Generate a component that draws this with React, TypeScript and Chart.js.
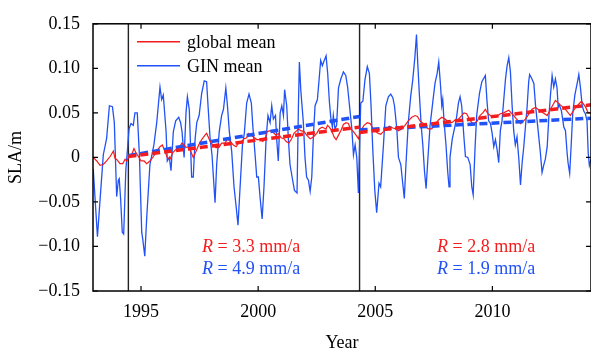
import React, { useEffect, useRef } from 'react';
import { Chart, registerables } from 'chart.js';

Chart.register(...registerables);

// ---- axes ----
const xTickValues = [1995, 2000, 2005, 2010];
const xTickLabels = ['1995', '2000', '2005', '2010'];
const yTickValues = [-0.15, -0.1, -0.05, 0, 0.05, 0.1, 0.15];
const yTickLabels = ['\u22120.15', '\u22120.10', '\u22120.05', '0', '0.05', '0.10', '0.15'];
const xRange = [1992.95, 2014.21];
const yRange = [-0.15, 0.15];
const xTitle = 'Year';
const yTitle = 'SLA/m';

// ---- series ----
const seriesNames = ['global mean', 'GIN mean'];

const ginYears = [
  1992.96, 1993.14, 1993.28, 1993.39, 1993.53, 1993.65, 1993.78, 1993.86, 1993.96, 1994.03,
  1994.07, 1994.13, 1994.2, 1994.26, 1994.35, 1994.49, 1994.57, 1994.67, 1994.74, 1994.84,
  1994.93, 1995.03, 1995.07, 1995.16, 1995.24, 1995.38, 1995.55, 1995.67, 1995.81, 1995.88,
  1995.95, 1996.07, 1996.12, 1996.21, 1996.28, 1996.38, 1996.48, 1996.61, 1996.69, 1996.75,
  1996.84, 1996.92, 1996.98, 1997.06, 1997.16, 1997.23, 1997.31, 1997.38, 1997.48, 1997.59,
  1997.7, 1997.8, 1997.87, 1997.95, 1998.03, 1998.09, 1998.16, 1998.23, 1998.34, 1998.44,
  1998.52, 1998.62, 1998.69, 1998.77, 1998.87, 1998.97, 1999.06, 1999.14, 1999.23, 1999.33,
  1999.41, 1999.51, 1999.61, 1999.71, 1999.77, 1999.87, 1999.94, 2000.01, 2000.08, 2000.17,
  2000.25, 2000.34, 2000.42, 2000.51, 2000.58, 2000.65, 2000.74, 2000.79, 2000.86, 2000.94,
  2001.01, 2001.08, 2001.13, 2001.22, 2001.29, 2001.36, 2001.45, 2001.55, 2001.66, 2001.72,
  2001.76, 2001.82, 2001.93, 2002.0, 2002.07, 2002.15, 2002.22, 2002.29, 2002.36, 2002.43,
  2002.53, 2002.61, 2002.67, 2002.74, 2002.81, 2002.9, 2002.97, 2003.04, 2003.1, 2003.17,
  2003.21, 2003.28, 2003.35, 2003.43, 2003.53, 2003.64, 2003.74, 2003.82, 2003.9, 2004.0,
  2004.07, 2004.14, 2004.21, 2004.28, 2004.31, 2004.38, 2004.47, 2004.56, 2004.66, 2004.75,
  2004.82, 2004.89, 2004.98, 2005.06, 2005.16, 2005.23, 2005.35, 2005.45, 2005.56, 2005.66,
  2005.75, 2005.82, 2005.92, 2005.99, 2006.09, 2006.16, 2006.24, 2006.31, 2006.41, 2006.51,
  2006.6, 2006.69, 2006.76, 2006.81, 2006.88, 2006.96, 2007.03, 2007.1, 2007.17, 2007.24,
  2007.34, 2007.45, 2007.55, 2007.64, 2007.71, 2007.78, 2007.84, 2007.88, 2007.94, 2008.02,
  2008.09, 2008.15, 2008.19, 2008.29, 2008.41, 2008.48, 2008.55, 2008.62, 2008.69, 2008.79,
  2008.85, 2008.95, 2009.05, 2009.12, 2009.18, 2009.26, 2009.33, 2009.45, 2009.55, 2009.7,
  2009.77, 2009.84, 2009.92, 2009.99, 2010.06, 2010.13, 2010.2, 2010.27, 2010.34, 2010.41,
  2010.48, 2010.56, 2010.63, 2010.7, 2010.77, 2010.84, 2010.91, 2010.98, 2011.05, 2011.13,
  2011.2, 2011.27, 2011.34, 2011.41, 2011.48, 2011.55, 2011.59, 2011.69, 2011.77, 2011.84,
  2011.91, 2011.98, 2012.05, 2012.12, 2012.19, 2012.26, 2012.34, 2012.41, 2012.48, 2012.55,
  2012.62, 2012.69, 2012.76, 2012.81, 2012.86, 2012.95, 2013.05, 2013.12, 2013.19, 2013.23,
  2013.3, 2013.36, 2013.43, 2013.52, 2013.62, 2013.69, 2013.76, 2013.83, 2013.9, 2013.97,
  2014.04, 2014.09, 2014.14, 2014.21,
];
const ginValues = [
  -0.013, -0.089, -0.037, 0.003, 0.021, 0.058, 0.057, 0.039, -0.044, -0.026,
  -0.024, -0.047, -0.084, -0.086, -0.015, 0.032, 0.038, 0.036, 0.05, 0.05,
  0.003, -0.084, -0.091, -0.111, -0.069, -0.008, 0.014, 0.039, 0.079, 0.065,
  0.07, 0.029, -0.004, 0.0, -0.015, 0.029, 0.041, 0.045, 0.039, 0.029,
  0.0, 0.05, 0.068, 0.054, -0.022, -0.022, 0.021, 0.039, 0.047, 0.072,
  0.086, 0.085, 0.054, 0.021, 0.003, -0.022, -0.051, -0.008, 0.029, 0.047,
  0.054, 0.078, 0.058, 0.029, 0.007, -0.033, -0.055, -0.076, -0.033, 0.014,
  0.027, 0.061, 0.071, 0.061, 0.036, 0.003, -0.022, -0.022, -0.044, -0.069,
  -0.033, 0.021, 0.047, 0.039, 0.058, 0.043, 0.047, 0.021, -0.004, 0.05,
  0.058, 0.047, 0.076, 0.058, 0.021, -0.008, -0.022, -0.037, -0.04, 0.058,
  0.107, 0.076, 0.039, 0.0, -0.022, -0.026, -0.038, -0.022, 0.025, 0.058,
  0.065, 0.09, 0.109, 0.103, 0.108, 0.114, 0.094, 0.063, 0.045, 0.034,
  0.047, 0.032, 0.036, 0.078, 0.088, 0.096, 0.092, 0.079, 0.058, 0.032,
  0.003, 0.014, 0.0, -0.04, -0.008, 0.061, 0.063, 0.087, 0.102, 0.094,
  0.058, 0.011, -0.037, -0.062, -0.029, -0.033, 0.014, 0.058, 0.068, 0.071,
  0.067, 0.058, 0.032, 0.0, -0.008, -0.026, -0.046, -0.008, 0.039, 0.068,
  0.087, 0.112, 0.138, 0.108, 0.072, 0.036, 0.014, -0.015, -0.035, -0.004,
  0.036, 0.061, 0.083, 0.094, 0.107, 0.083, 0.058, 0.065, 0.039, 0.014,
  -0.015, -0.033, 0.0, 0.021, 0.036, 0.047, 0.061, 0.068, 0.058, 0.021,
  0.001, 0.0, -0.008, -0.033, -0.042, 0.011, 0.047, 0.072, 0.085, 0.092,
  0.063, 0.041, 0.038, 0.027, 0.012, 0.02, 0.009, -0.006, 0.03, 0.041,
  0.063, 0.088, 0.103, 0.112, 0.096, 0.059, 0.03, 0.014, 0.023, -0.002,
  -0.031, -0.006, 0.012, 0.034, 0.056, 0.085, 0.093, 0.088, 0.083, 0.059,
  0.041, 0.023, 0.005, -0.017, -0.009, -0.002, 0.012, 0.045, 0.07, 0.092,
  0.079, 0.088, 0.078, 0.056, 0.059, 0.052, 0.034, 0.03, 0.005, -0.006,
  -0.018, 0.012, 0.049, 0.07, 0.083, 0.093, 0.078, 0.059, 0.052, 0.049,
  0.041, 0.005, -0.009, -0.002,
];

const globalYears = [
  1992.96, 1993.11, 1993.25, 1993.39, 1993.53, 1993.68, 1993.82, 1993.89, 1993.99, 1994.1,
  1994.22, 1994.32, 1994.39, 1994.5, 1994.6, 1994.7, 1994.79, 1994.89, 1995.0, 1995.13,
  1995.24, 1995.38, 1995.53, 1995.67, 1995.81, 1995.91, 1996.02, 1996.12, 1996.24, 1996.35,
  1996.49, 1996.64, 1996.74, 1996.84, 1996.92, 1997.02, 1997.12, 1997.23, 1997.35, 1997.46,
  1997.59, 1997.73, 1997.8, 1997.87, 1997.95, 1998.06, 1998.2, 1998.32, 1998.44, 1998.59,
  1998.69, 1998.8, 1998.94, 1999.06, 1999.16, 1999.3, 1999.41, 1999.51, 1999.58, 1999.68,
  1999.8, 1999.94, 2000.08, 2000.2, 2000.29, 2000.39, 2000.51, 2000.65, 2000.76, 2000.86,
  2000.98, 2001.1, 2001.19, 2001.31, 2001.43, 2001.53, 2001.65, 2001.72, 2001.82, 2001.96,
  2002.07, 2002.22, 2002.36, 2002.5, 2002.61, 2002.73, 2002.81, 2002.9, 2002.96, 2003.04,
  2003.14, 2003.24, 2003.33, 2003.43, 2003.53, 2003.64, 2003.75, 2003.85, 2003.95, 2004.07,
  2004.18, 2004.28, 2004.38, 2004.52, 2004.66, 2004.78, 2004.89, 2005.01, 2005.13, 2005.23,
  2005.35, 2005.46, 2005.6, 2005.75, 2005.89, 2005.99, 2006.13, 2006.27, 2006.41, 2006.56,
  2006.7, 2006.8, 2006.91, 2007.06, 2007.17, 2007.27, 2007.41, 2007.55, 2007.7, 2007.84,
  2007.98, 2008.12, 2008.27, 2008.41, 2008.55, 2008.69, 2008.79, 2008.9, 2009.02, 2009.12,
  2009.23, 2009.36, 2009.47, 2009.59, 2009.7, 2009.81, 2009.92, 2010.13, 2010.34, 2010.48,
  2010.7, 2010.91, 2011.2, 2011.41, 2011.69, 2011.84, 2012.05, 2012.34, 2012.48, 2012.69,
  2012.9, 2013.12, 2013.33, 2013.55, 2013.8, 2013.97, 2014.09, 2014.19,
];
const globalValues = [
  0.0, -0.004, -0.009, -0.008, -0.004, 0.001, 0.007, -0.001, -0.003, -0.007,
  -0.007, -0.002, -0.004, 0.001, 0.003, 0.01, 0.005, 0.001, -0.004, -0.004,
  -0.007, -0.004, 0.001, 0.007, 0.012, 0.014, 0.007, 0.0, -0.002, 0.005,
  0.009, 0.011, 0.016, 0.014, 0.011, 0.012, 0.007, 0.0, 0.007, 0.014,
  0.02, 0.025, 0.027, 0.023, 0.018, 0.014, 0.011, 0.011, 0.016, 0.016,
  0.021, 0.018, 0.014, 0.012, 0.016, 0.018, 0.021, 0.022, 0.027, 0.025,
  0.023, 0.02, 0.02, 0.018, 0.021, 0.029, 0.03, 0.028, 0.025, 0.027,
  0.022, 0.021, 0.018, 0.016, 0.021, 0.027, 0.03, 0.032, 0.03, 0.029,
  0.025, 0.021, 0.023, 0.027, 0.032, 0.034, 0.033, 0.032, 0.036, 0.034,
  0.03, 0.023, 0.02, 0.025, 0.03, 0.037, 0.039, 0.038, 0.032, 0.029,
  0.025, 0.021, 0.03, 0.036, 0.039, 0.038, 0.033, 0.029, 0.027, 0.026,
  0.029, 0.032, 0.035, 0.033, 0.032, 0.03, 0.032, 0.036, 0.041, 0.045,
  0.047, 0.046, 0.041, 0.038, 0.034, 0.032, 0.032, 0.037, 0.042, 0.045,
  0.043, 0.04, 0.039, 0.042, 0.043, 0.047, 0.05, 0.049, 0.043, 0.039,
  0.038, 0.041, 0.047, 0.05, 0.054, 0.049, 0.047, 0.045, 0.049, 0.05,
  0.053, 0.047, 0.038, 0.043, 0.054, 0.056, 0.052, 0.047, 0.054, 0.064,
  0.059, 0.054, 0.047, 0.056, 0.063, 0.057, 0.05, 0.05,
];

// ---- trends (piecewise, between break years) ----
const breakYears = [1994.46, 2004.33];
const globalTrendStart = [0.001, 0.028];
const globalTrendEnd = [0.034, 0.059];
const ginTrendStart = [0.002, 0.031];
const ginTrendEnd = [0.046, 0.044];
const globalRates = ['3.3', '2.8'];
const ginRates = ['4.9', '1.9'];
const rateCenterYears = [1999.7, 2009.73];

const RED = '#f41c1c';
const BLUE = '#2152f5';
const FONT = '"Liberation Serif", "Times New Roman", serif';

function toPoints(xs: number[], ys: number[]) {
  return xs.map((x, i) => ({ x, y: ys[i] }));
}

function trendSegments(starts: number[], ends: number[]) {
  return breakYears.map((b, i) => {
    const end = i + 1 < breakYears.length ? breakYears[i + 1] : xRange[1];
    return [
      { x: b, y: starts[i] },
      { x: end, y: ends[i] },
    ];
  });
}

const framePlugin = {
  id: 'frameAndText',
  afterDatasetsDraw(chart: any) {
    const { ctx, chartArea, scales } = chart;
    const { left, right, top, bottom } = chartArea;
    const xs = scales.x;
    const ys = scales.y;
    ctx.save();
    // frame
    ctx.strokeStyle = '#000';
    ctx.lineWidth = 1.5;
    ctx.strokeRect(left, top, right - left, bottom - top);
    // inward ticks
    ctx.lineWidth = 1.2;
    ctx.beginPath();
    xTickValues.forEach((v) => {
      const px = xs.getPixelForValue(v);
      ctx.moveTo(px, bottom);
      ctx.lineTo(px, bottom - 5);
      ctx.moveTo(px, top);
      ctx.lineTo(px, top + 5);
    });
    yTickValues.forEach((v) => {
      const py = ys.getPixelForValue(v);
      ctx.moveTo(left, py);
      ctx.lineTo(left + 5, py);
      ctx.moveTo(right, py);
      ctx.lineTo(right - 5, py);
    });
    ctx.stroke();

    // legend
    const colors = [RED, BLUE];
    ctx.font = `18px ${FONT}`;
    ctx.textBaseline = 'alphabetic';
    ctx.textAlign = 'left';
    seriesNames.forEach((name, i) => {
      const ly = top + 18 + i * 24;
      ctx.strokeStyle = colors[i];
      ctx.lineWidth = 1.5;
      ctx.beginPath();
      ctx.moveTo(left + 44, ly);
      ctx.lineTo(left + 87, ly);
      ctx.stroke();
      ctx.fillStyle = '#000';
      ctx.fillText(name, left + 94, ly + 6);
    });

    // rate annotations
    const rows = [
      { rates: globalRates, color: RED, base: bottom - 39 },
      { rates: ginRates, color: BLUE, base: bottom - 17 },
    ];
    rows.forEach((row) => {
      row.rates.forEach((r, i) => {
        const cx = xs.getPixelForValue(rateCenterYears[i]);
        const rest = ` = ${r} mm/a`;
        ctx.font = `italic 18px ${FONT}`;
        const w1 = ctx.measureText('R').width;
        ctx.font = `18px ${FONT}`;
        const w2 = ctx.measureText(rest).width;
        const sx = cx - (w1 + w2) / 2;
        ctx.fillStyle = row.color;
        ctx.font = `italic 18px ${FONT}`;
        ctx.fillText('R', sx, row.base);
        ctx.font = `18px ${FONT}`;
        ctx.fillText(rest, sx + w1, row.base);
      });
    });
    ctx.restore();
  },
};

export default function App() {
  const ref = useRef<HTMLCanvasElement | null>(null);
  useEffect(() => {
    document.body.style.margin = '0';
    const canvas = ref.current;
    if (!canvas) return;

    const globalSegs = trendSegments(globalTrendStart, globalTrendEnd);
    const ginSegs = trendSegments(ginTrendStart, ginTrendEnd);

    const base = { pointRadius: 0, tension: 0, fill: false };
    const datasets: any[] = [];
    globalSegs.forEach((seg) =>
      datasets.push({ ...base, data: seg, borderColor: RED, borderWidth: 3.5, borderDash: [8, 4] })
    );
    ginSegs.forEach((seg) =>
      datasets.push({ ...base, data: seg, borderColor: BLUE, borderWidth: 3.5, borderDash: [8, 4] })
    );
    datasets.push({ ...base, label: seriesNames[0], data: toPoints(globalYears, globalValues), borderColor: RED, borderWidth: 1.2 });
    datasets.push({ ...base, label: seriesNames[1], data: toPoints(ginYears, ginValues), borderColor: BLUE, borderWidth: 1.3 });
    breakYears.forEach((b) =>
      datasets.push({ ...base, data: [{ x: b, y: yRange[0] }, { x: b, y: yRange[1] }], borderColor: '#222', borderWidth: 1.4 })
    );

    const chart = new Chart(canvas, {
      type: 'line',
      data: { datasets },
      options: {
        animation: false,
        responsive: false,
        maintainAspectRatio: false,
        devicePixelRatio: 1,
        layout: { padding: { top: 15, left: 0, right: 0, bottom: 0 } },
        plugins: { legend: { display: false }, tooltip: { enabled: false } },
        scales: {
          x: {
            type: 'linear',
            min: xRange[0],
            max: xRange[1],
            grid: { display: false, drawTicks: false },
            border: { display: false },
            afterBuildTicks: (s: any) => {
              s.ticks = xTickValues.map((v) => ({ value: v }));
            },
            afterFit: (s: any) => {
              s.height = 63;
            },
            ticks: {
              padding: 10,
              color: '#000',
              font: { family: FONT, size: 18 },
              callback: (_v: any, i: number) => xTickLabels[i],
            },
            title: {
              display: true,
              text: xTitle,
              color: '#000',
              font: { family: FONT, size: 18 },
              padding: { top: 2, bottom: 0 },
            },
          },
          y: {
            type: 'linear',
            min: yRange[0],
            max: yRange[1],
            grid: { display: false, drawTicks: false },
            border: { display: false },
            afterBuildTicks: (s: any) => {
              s.ticks = yTickValues.map((v) => ({ value: v }));
            },
            afterFit: (s: any) => {
              s.width = 93;
            },
            ticks: {
              padding: 13,
              color: '#000',
              font: { family: FONT, size: 18 },
              callback: (_v: any, i: number) => yTickLabels[i],
            },
            title: {
              display: true,
              text: yTitle,
              color: '#000',
              font: { family: FONT, size: 18 },
              padding: { top: 5, bottom: 0 },
            },
          },
        },
      },
      plugins: [framePlugin],
    });
    return () => chart.destroy();
  }, []);

  return (
    <div style={{ width: 591, height: 354, position: 'relative', background: '#fff' }}>
      <canvas ref={ref} width={591} height={354} style={{ width: 591, height: 354, display: 'block' }} />
    </div>
  );
}
